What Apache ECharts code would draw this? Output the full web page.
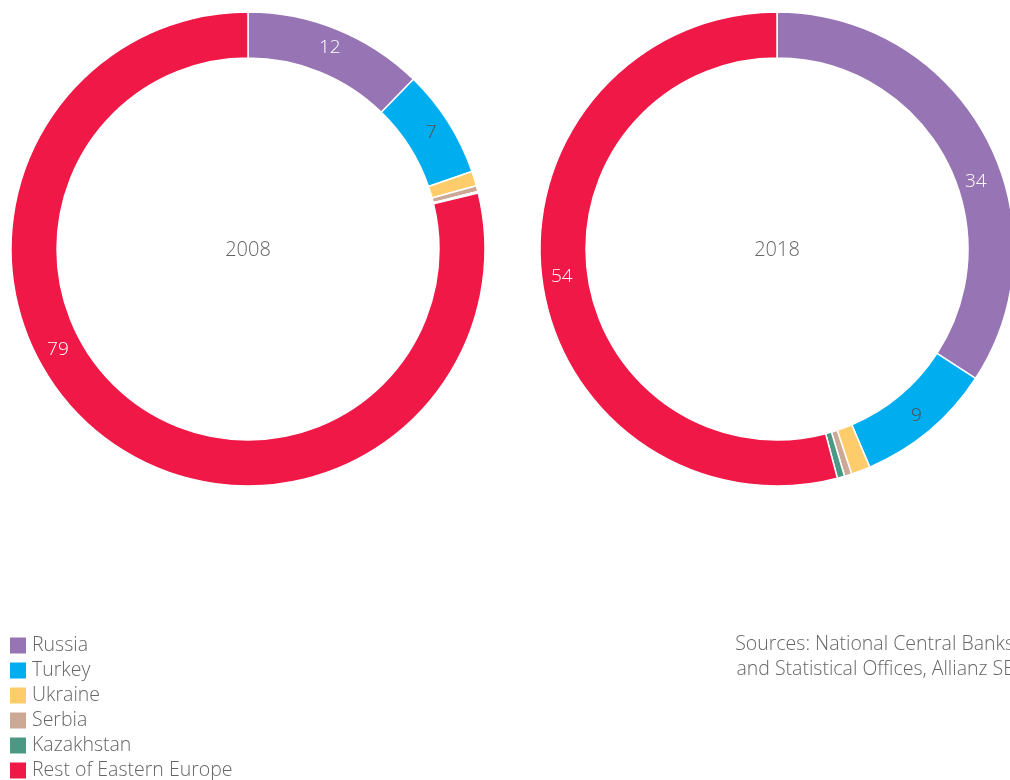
<!DOCTYPE html>
<html><head><meta charset="utf-8">
<script src="https://cdn.jsdelivr.net/npm/echarts@6/dist/echarts.min.js"></script>
<style>html,body{margin:0;padding:0;background:#fff}#c{width:1010px;height:780px}</style>
</head><body><div id="c"></div>
<script>
const categories = ['Russia','Turkey','Ukraine','Serbia','Kazakhstan','Rest of Eastern Europe'];
const values2008 = [12.3, 7.4, 1.0, 0.4, 0.1, 78.8];
const values2018 = [34.2, 9.4, 1.3, 0.5, 0.5, 54.1];
const years = ['2008','2018'];
const colors = ['#9775b4','#00adef','#ffcc6b','#cca897','#4a9985','#ef1847'];
const labelColors = ['#ffffff','#4d4d4d','#4d4d4d','#4d4d4d','#4d4d4d','#ffffff'];
const font = 'Open Sans';
const fw = 300;

function mk(vals, center, name, shifts){
  return {
    type:'pie', name:name, radius:[191,237], center:center, startAngle:90, clockwise:true,
    avoidLabelOverlap:false,
    itemStyle:{borderColor:'#fff', borderWidth:1.5},
    label:{show:true, position:'inside', fontFamily:font, fontWeight:fw, fontSize:19,
      formatter:p=> p.value>=5 ? Math.round(p.value) : '',
      color:'#fff'},
    labelLine:{show:false},
    labelLayout: p => shifts[p.dataIndex] ? {dx:shifts[p.dataIndex][0], dy:shifts[p.dataIndex][1]} : {},
    emphasis:{disabled:true},
    data: vals.map((v,i)=>({name:categories[i], value:v, itemStyle:{color:colors[i]}, label:{color:labelColors[i]}}))
  };
}
const chart = echarts.init(document.getElementById('c'));
chart.setOption({
  animation:false,
  color:colors,
  legend:{orient:'vertical', left:10, top:635, height:150, padding:0, itemWidth:16, itemHeight:16, itemGap:4,
    icon:'rect', itemStyle:{borderWidth:0},
    textStyle:{fontFamily:font, fontWeight:fw, fontSize:19.5, color:'#666', lineHeight:21, padding:[0,0,0,1]},
    data:categories, selectedMode:false},
  graphic:[
    {type:'text', x:248, y:250, style:{text:years[0], font:fw+' 20px "'+font+'"', fill:'#666', align:'center', verticalAlign:'middle'}},
    {type:'text', x:777, y:250, style:{text:years[1], font:fw+' 20px "'+font+'"', fill:'#666', align:'center', verticalAlign:'middle'}},
    {type:'text', x:1014, y:632, style:{text:'Sources: National Central Banks\nand Statistical Offices, Allianz SE', font:fw+' 19.5px "'+font+'"', fill:'#666', align:'right', lineHeight:25}}
  ],
  series:[ mk(values2008,[248,249],years[0], {5:[-56,-70]}), mk(values2018,[777,249],years[1], {0:[8,36]}) ]
});
</script></body></html>
